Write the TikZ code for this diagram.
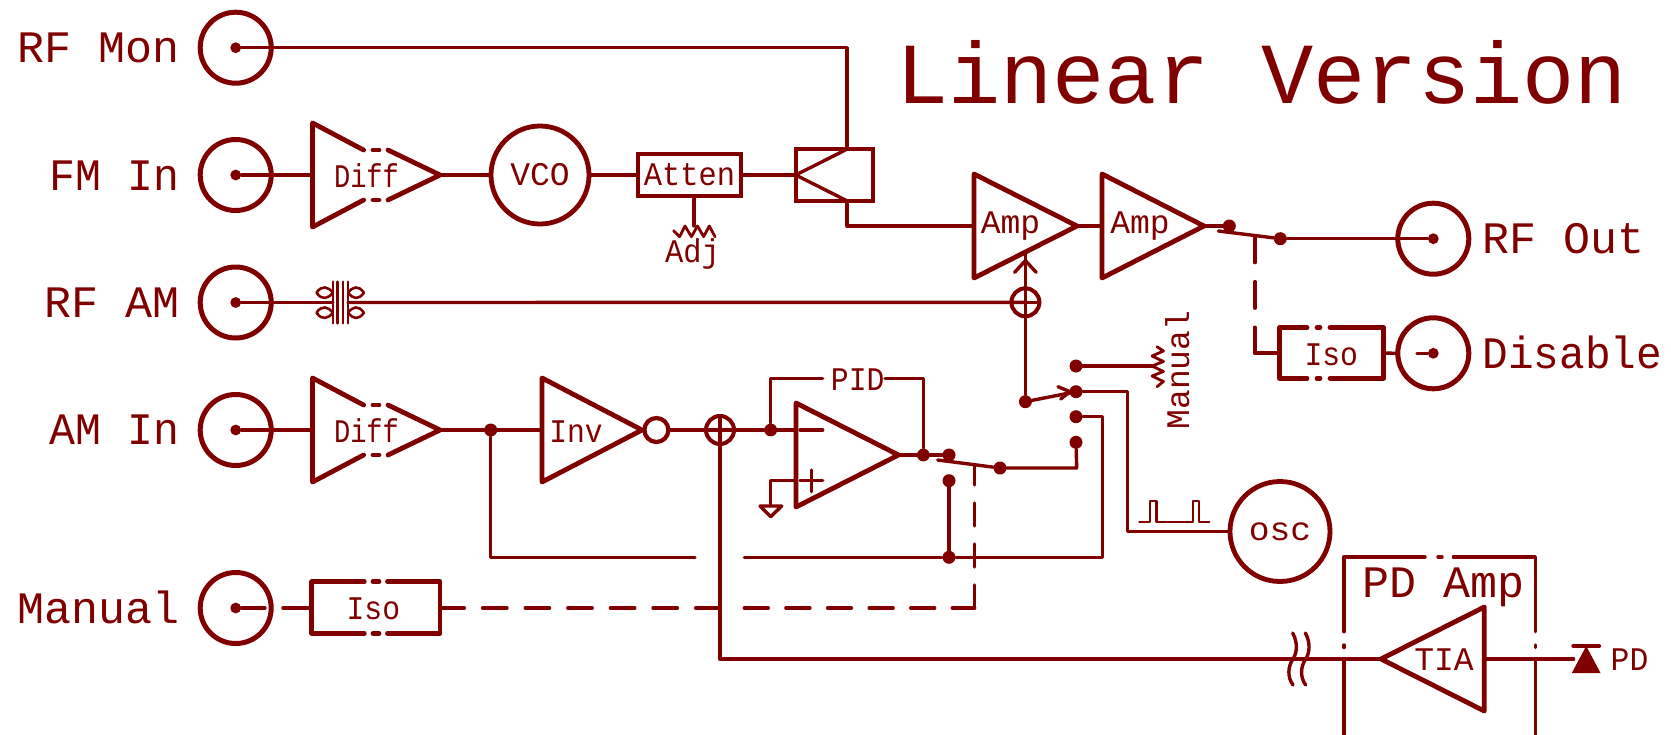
\documentclass[tikz,border=0pt]{standalone}
\usepackage{graphicx}
\usepackage{fontspec}
\newfontfamily\ef{Liberation Mono}
\definecolor{wirecol}{HTML}{800000}
\newcommand\sx[2]{\scalebox{#1}[1]{#2}}
\tikzset{
  wire/.style={draw=wirecol,line width=1.7pt,line cap=round,line join=round},
  heavy/.style={draw=wirecol,line width=2.4pt,line cap=round,line join=round},
  fine/.style={draw=wirecol,line width=1.1pt,line cap=round,line join=round},
  bnc/.style={circle,draw=wirecol,line width=2.5pt,minimum size=35.5pt,inner sep=0pt},
  bigcirc/.style={circle,draw=wirecol,line width=2.4pt,minimum size=49pt,inner sep=0pt},
  sumj/.style={circle,draw=wirecol,line width=2pt,minimum size=14pt,inner sep=0pt},
  dot/.style={circle,fill=wirecol,minimum size=6.5pt,inner sep=0pt},
  smalldot/.style={circle,fill=wirecol,minimum size=5.4pt,inner sep=0pt},
  titletxt/.style={text=wirecol,inner sep=0pt,anchor=base,font=\ef\fontsize{43.5pt}{43.5pt}\selectfont},
  bigtxt/.style={text=wirecol,inner sep=0pt,font=\ef\fontsize{22.5pt}{22.5pt}\selectfont},
  smalltxt/.style={text=wirecol,inner sep=0pt,anchor=base,font=\ef\fontsize{16.5pt}{16.5pt}\selectfont},
}
% triangle: name, base x, apex x, centre y
\newcommand\mytri[4]{%
  \coordinate (#1-in) at (#2,#4);\coordinate (#1-out) at (#3,#4);
  \coordinate (#1-a) at (#2,#4-52);\coordinate (#1-b) at (#2,#4+52);
  \draw[heavy] (#1-a) -- (#1-out) -- (#1-b) -- cycle;}
% differential triangle with broken sides
\newcommand\mydiff[4]{%
  \coordinate (#1-in) at (#2,#4);\coordinate (#1-out) at (#3,#4);
  \coordinate (#1-a) at (#2,#4-52);\coordinate (#1-b) at (#2,#4+52);
  \draw[heavy] (363.6,#4-25) -- (#1-a) -- (#1-b) -- (363.6,#4+25);
  \draw[heavy] (388,#4-25) -- (#1-out) -- (388,#4+25);
  \draw[heavy] (373,#4-25) -- (379,#4-25);
  \draw[heavy] (373,#4+25) -- (379,#4+25);}
\begin{document}
\begin{tikzpicture}[x=0.5pt,y=-0.5pt]
\useasboundingbox (0,0) rectangle (1671,734);
% title
\node[titletxt] (title) at (1261.5,103.3) {Linear Version};
% connectors on the left
\node[bnc] (rfmon) at (235.7,47.7) {};
\node[bnc] (fmin) at (235.7,175) {};
\node[bnc] (rfam) at (235.7,302.5) {};
\node[bnc] (amin) at (235.7,430) {};
\node[bnc] (manual) at (235.7,608) {};
\node[bnc] (rfout) at (1433.3,238.7) {};
\node[bnc] (disable) at (1433.3,353.3) {};
\foreach \n in {rfmon,fmin,rfam,amin,manual,rfout,disable}
  \node[smalldot] (\n-c) at (\n.center) {};
\node[bigtxt,anchor=base east] (l1) at (180,62.7) {RF Mon};
\node[bigtxt,anchor=base east] (l2) at (180,190) {\sx{.96}{FM In}};
\node[bigtxt,anchor=base east] (l3) at (180,317.3) {RF AM};
\node[bigtxt,anchor=base east] (l4) at (180,444.5) {\sx{.96}{AM In}};
\node[bigtxt,anchor=base east] (l5) at (180,623.3) {Manual};
\node[bigtxt,anchor=base west] (l6) at (1482,253.3) {RF Out};
\node[bigtxt,anchor=base west] (l7) at (1482,368.3) {\sx{.95}{Disable}};
% amplifiers
\mydiff{dif1}{312.5}{440}{175}
\mydiff{dif2}{312.5}{440}{430}
\mytri{amp1}{974}{1077}{226}
\mytri{amp2}{1102}{1204}{226}
\mytri{inv}{542}{642}{430}
\mytri{opa}{796}{898.5}{455}
\mytri{tia}{1484.3}{1381}{659}
\node[smalltxt] (td1) at (366.5,187) {\sx{.82}{Diff}};
\node[smalltxt] (td2) at (366.5,442) {\sx{.82}{Diff}};
\node[smalltxt] (ta1) at (1010.5,233) {Amp};
\node[smalltxt] (ta2) at (1140,233) {Amp};
\node[smalltxt] (ti1) at (576,442) {\sx{.9}{Inv}};
\node[smalltxt] (tt1) at (1444,670.7) {TIA};
% round blocks
\node[bigcirc,font=\ef\fontsize{16.5pt}{16.5pt}\selectfont,text=wirecol] (vco) at (540,175) {VCO};
\node[bigcirc,minimum size=50pt,font=\ef\fontsize{16.5pt}{16.5pt}\selectfont,text=wirecol] (osc) at (1280,531.5) {\raisebox{-1.7pt}{\sx{1.05}{osc}}};
% attenuator
\node[rectangle,draw=wirecol,line width=2.25pt,minimum width=51.5pt,minimum height=21.2pt,inner sep=0pt,font=\ef\fontsize{16.5pt}{16.5pt}\selectfont,text=wirecol] (atten) at (689.5,175) {\sx{.92}{Atten}};
% coupler
\node[rectangle,draw=wirecol,line width=2.1pt,minimum width=38.4pt,minimum height=25.7pt,inner sep=0pt] (coup) at (834.3,175) {};
\coordinate (cpa) at (846.8,149.3);
\coordinate (cpb) at (846.8,200.7);
\coordinate (cpc) at (795.7,175);
\draw[wire] (cpa) -- (cpc) -- (cpb);
% wires top
\coordinate (rfmc) at (846.8,47.7);
\draw[wire] (rfmon-c) -- (rfmc) -- (cpa);
\draw[wire] (fmin-c) -- (dif1-in);
\draw[wire] (dif1-out) -- (vco);
\draw[wire] (vco) -- (atten);
\draw[wire] (atten) -- (cpc);
\coordinate (cpd) at (846.8,226);
\draw[wire] (cpb) -- (cpd) -- (amp1-in);
\draw[wire] (amp1-out) -- (amp2-in);
% adjust resistor
\coordinate (adj) at (694,226);
\draw[wire] (atten.south -| adj) -- (adj);
\draw[fine,line width=1.4pt] (673.6,230.7) -- (679.6,236.7) -- (685,226) -- (691.4,236.7) -- (697.5,226) -- (703.6,236.7) -- (709.3,226) -- (715,236.7);
\node[smalltxt] (tadj) at (692.5,262.7) {\sx{.92}{Adj}};
% transformer
\coordinate (xl) at (333,302.5);
\coordinate (xr) at (348,302.5);
\draw[wire] (rfam-c) -- (xl);
\foreach \vx in {333,337.5,343,348}
  \draw[fine,line width=1.3pt] (\vx,281.7) -- (\vx,323.3);
\foreach \vy in {292.7,312.7}{
  \draw[fine,line width=1.3pt] (316.5,\vy) .. controls (322,\vy-8) and (328,\vy-6) .. (333,\vy) .. controls (328,\vy+6) and (322,\vy+8) .. (316.5,\vy);
  \draw[fine,line width=1.3pt] (364,\vy) .. controls (358,\vy-8) and (353,\vy-6) .. (348,\vy) .. controls (353,\vy+6) and (358,\vy+8) .. (364,\vy);
}
% summing junction 1
\node[sumj] (sum1) at (1025.4,302.3) {};
\node[dot] (sel) at (1025.4,401.7) {};
\coordinate (amp1u) at (1025.4,252);
\draw[wire] (xr) -- (sum1.center);
\draw[wire] (amp1u) -- (sel);
\draw[wire] (1014.6,272.3) -- (1025.4,260.7) -- (1036.2,272.3);
\draw[wire] (1014,302.3) -- (1037,302.3);
% selector contacts
\node[dot] (c1) at (1076,366) {};
\node[dot] (c2) at (1076,391.7) {};
\node[dot] (c3) at (1076,416.7) {};
\node[dot] (c4) at (1076,442.3) {};
\draw[wire] (sel) -- (c2);
\draw[wire] (1058,386.7) -- (1070,391.7) -- (1060.7,399);
% manual resistor
\coordinate (mr) at (1152,366);
\draw[wire] (c1) -- (mr);
\draw[fine,line width=1.4pt] (1157,346.7) -- (1163.5,351) -- (1152,356) -- (1163.5,361.5) -- (1152,366) -- (1163.5,371.5) -- (1152,376) -- (1163.5,381.5) -- (1157,386.7);
\node[text=wirecol,inner sep=0pt,rotate=90,anchor=base,font=\ef\fontsize{16.5pt}{16.5pt}\selectfont] (tman) at (1189,370) {Manual};
% oscillator branch
\coordinate (o1) at (1127.5,391.7);
\coordinate (o2) at (1127.5,531.5);
\draw[wire] (c2) -- (o1) -- (o2) -- (osc);
\draw[fine,line width=1.1pt] (1139.3,521.7) -- (1150,521.7) -- (1150,501) -- (1156.5,501) -- (1156.5,521.7) -- (1193,521.7) -- (1193,501) -- (1199,501) -- (1199,521.7) -- (1209.3,521.7);
% third contact back to the AM branch
\coordinate (t1) at (1102.3,416.7);
\coordinate (t2) at (1102.3,557.3);
\node[dot] (j949) at (949,557.3) {};
\coordinate (t3) at (744.3,557.3);
\draw[wire] (c3) -- (t1) -- (t2) -- (j949) -- (t3);
\node[dot] (jam) at (490.7,430) {};
\coordinate (t4) at (490.7,557.3);
\coordinate (t5) at (695,557.3);
\draw[wire] (jam) -- (t4) -- (t5);
% AM chain
\draw[wire] (amin-c) -- (dif2-in);
\draw[wire] (dif2-out) -- (jam) -- (inv-in);
\node[circle,draw=wirecol,line width=2.1pt,minimum size=12pt,inner sep=0pt] (bub) at (656.4,430) {};
\node[sumj] (sum2) at (720,430) {};
\draw[wire] (bub) -- (sum2);
\draw[wire] (708,430) -- (732,430);
\node[smalldot,minimum size=6.4pt] (jpid) at (770.7,430) {};
\draw[wire] (sum2) -- (jpid) -- (opa-in |- jpid);
\draw[wire] (800,430) -- (822.7,430);
\draw[wire] (800,480.7) -- (822.7,480.7);
\draw[wire] (811.3,470) -- (811.3,491.7);
\node[smalldot,minimum size=6.4pt] (jout) at (923.3,455) {};
\node[dot] (swa) at (949,455) {};
\node[dot] (swb) at (949,480.7) {};
\node[dot] (swc) at (1000,468) {};
\draw[wire] (opa-out) -- (jout) -- (swa);
\coordinate (p1) at (770.7,378.3);
\coordinate (p2) at (822.7,378.3);
\coordinate (p3) at (885,378.3);
\coordinate (p4) at (923.3,378.3);
\draw[wire] (jpid) -- (p1) -- (p2);
\draw[wire] (p3) -- (p4) -- (jout);
\node[smalltxt] (tpid) at (857.7,390) {\sx{.9}{PID}};
% ground
\coordinate (g0) at (796,480.7);
\coordinate (g1) at (770.7,480.7);
\coordinate (g2) at (770.7,506);
\draw[wire] (g0) -- (g1) -- (g2);
\draw[wire] (760,506) -- (781.7,506) -- (770.7,516.7) -- cycle;
% second switch
\draw[wire] (937.7,460) -- (swc);
\coordinate (s1) at (1076.7,468);
\draw[wire] (swc) -- (s1) -- (c4);
\draw[wire] (swb) -- (j949);
% isolators
\coordinate (isoa) at (311.8,607.5);
\coordinate (isob) at (440,607.5);
\draw[heavy] (364.3,581.7) -- (311.8,581.7) -- (311.8,633.3) -- (364.3,633.3);
\draw[heavy] (387.5,581.7) -- (440,581.7) -- (440,633.3) -- (387.5,633.3);
\draw[heavy] (373,581.7) -- (379,581.7);
\draw[heavy] (373,633.3) -- (379,633.3);
\node[smalltxt] (tiso) at (373.4,619.3) {\sx{.9}{Iso}};
\coordinate (m1) at (265,608);
\coordinate (m2) at (283,608);
\draw[wire] (manual-c) -- (m1);
\draw[wire] (m2) -- (isoa |- m2);
\coordinate (isoc) at (1279.6,353);
\coordinate (isod) at (1383.4,353);
\draw[heavy] (1307,327.7) -- (1279.6,327.7) -- (1279.6,378.3) -- (1307,378.3);
\draw[heavy] (1330,327.7) -- (1383.4,327.7) -- (1383.4,378.3) -- (1330,378.3);
\draw[heavy] (1317,327.7) -- (1320,327.7);
\draw[heavy] (1317,378.3) -- (1320,378.3);
\node[smalltxt] (tiso2) at (1331.3,365) {\sx{.9}{Iso}};
\coordinate (d1) at (1396.5,353.3);
\coordinate (d2) at (1417,353.3);
\draw[wire] (isod) -- (d1);
\draw[wire] (d2) -- (disable-c);
% dashed control lines
\coordinate (k1) at (720,608);
\coordinate (k2) at (744.3,608);
\coordinate (k3) at (974.7,608);
\coordinate (k4) at (974.7,466);
\draw[wire,dash pattern=on 12.2pt off 9.1pt] (isob |- k1) -- (k1);
\draw[wire,dash pattern=on 12pt off 8.8pt] (k2) -- (k3);
\draw[wire,dash pattern=on 11.5pt off 9pt] (k3) -- (k4);
% output switch
\node[dot] (swo1) at (1229.3,226) {};
\node[dot] (swo2) at (1280.3,238.7) {};
\draw[wire] (amp2-out) -- (swo1);
\draw[wire] (1218.4,231) -- (swo2);
\draw[wire] (swo2) -- (rfout-c);
\coordinate (e1) at (1254.8,236);
\coordinate (e2) at (1254.8,353);
\draw[wire,dash pattern=on 13.3pt off 9.5pt] (e1) -- (e2);
\draw[wire] (e2) -- (isoc);
% feedback from photodiode
\coordinate (f1) at (720,659);
\draw[wire] (720,418) -- (f1) -- (tia-out);
\draw[wire] (1292.7,633) .. controls (1298,643) and (1297,653) .. (1293,659) .. controls (1288,666) and (1287,677) .. (1293,685);
\draw[wire] (1305.4,633) .. controls (1310.7,643) and (1309.7,653) .. (1305.7,659) .. controls (1300.7,666) and (1299.7,677) .. (1305.7,685);
% PD amp box
\coordinate (ba) at (1344,557);
\coordinate (bb) at (1535.3,557);
\draw[wire] (1425,557) -- (ba) -- (1344,631.7);
\draw[wire] (1453.4,557) -- (bb) -- (1535.3,631.7);
\draw[wire] (1438,557) -- (1442,557);
\draw[wire] (1344,645) -- (1344,647.5);
\draw[wire] (1535.3,645) -- (1535.3,647.5);
\draw[wire] (1344,659) -- (1344,736.5) -- (1425,736.5);
\draw[wire] (1535.3,659) -- (1535.3,736.5) -- (1453.4,736.5);
\node[bigtxt,anchor=base] (tpd) at (1443,597.3) {PD Amp};
% photodiode
\coordinate (pd) at (1573.6,659);
\draw[wire] (tia-in) -- (pd);
\fill[wirecol] (1586.2,646) -- (1600.5,673) -- (1571.8,673) -- cycle;
\draw[wire] (1573,646) -- (1599.4,646);
\node[smalltxt] (tpdl) at (1629.5,670) {\sx{.95}{PD}};
\end{tikzpicture}
\end{document}
